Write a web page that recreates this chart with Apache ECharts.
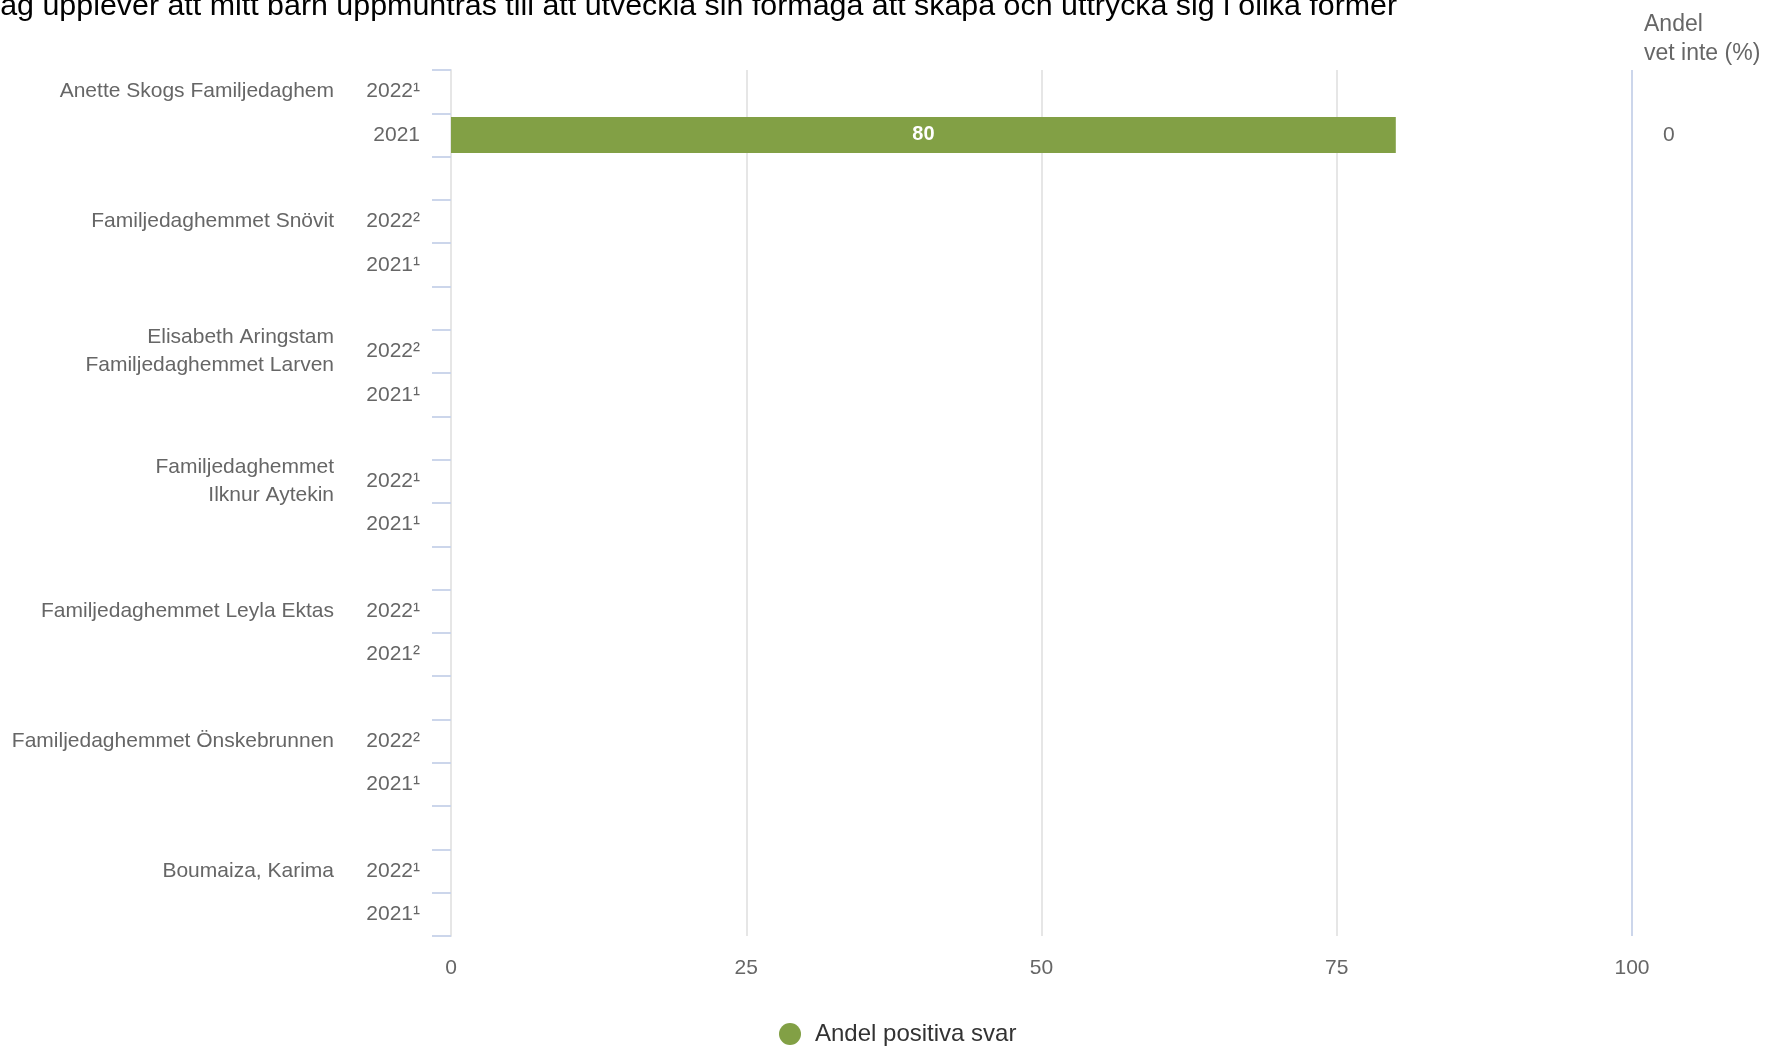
<!DOCTYPE html>
<html>
<head>
<meta charset="utf-8">
<script src="https://cdn.jsdelivr.net/npm/echarts@6/dist/echarts.min.js"></script>
<style>
html,body{margin:0;padding:0;background:#fff;}
#chart{width:1771px;height:1050px;}
</style>
</head>
<body>
<div id="chart"></div>
<script>
// ---- data ----
const titleText = 'Jag upplever att mitt barn uppmuntras till att utveckla sin förmåga att skapa och uttrycka sig i olika former';
const yearLabels = ['2022¹','2021','', '2022²','2021¹','', '2022²','2021¹','', '2022¹','2021¹','', '2022¹','2021²','', '2022²','2021¹','', '2022¹','2021¹'];
const groupNames = ['Anette Skogs Familjedaghem','','', 'Familjedaghemmet Snövit','','', 'Elisabeth Aringstam\nFamiljedaghemmet Larven','','', 'Familjedaghemmet\nIlknur Aytekin','','', 'Familjedaghemmet Leyla Ektas','','', 'Familjedaghemmet Önskebrunnen','','', 'Boumaiza, Karima',''];
const positiveValues = [null,80,null, null,null,null, null,null,null, null,null,null, null,null,null, null,null,null, null,null];
const vetInteValues = ['','0','', '','','', '','','', '','','', '','','', '','','', '',''];
const xTicks = [0,25,50,75,100];
const seriesName = 'Andel positiva svar';
const vetInteHeader = 'Andel\nvet inte (%)';

const FONT = 'Liberation Sans, Arial, sans-serif';
const chart = echarts.init(document.getElementById('chart'));
chart.setOption({
  animation: false,
  textStyle: { fontFamily: FONT },
  title: [
    { text: titleText, left: -20, top: -13,
      textStyle: { fontFamily: FONT, fontSize: 30.4, fontWeight: 'normal', color: '#000' } },
    { text: vetInteHeader, left: 1639, top: 5,
      textStyle: { fontFamily: FONT, fontSize: 23, fontWeight: 'normal', color: '#666', lineHeight: 29 } }
  ],
  legend: {
    left: 774, top: 1017,
    icon: 'circle', itemWidth: 22, itemHeight: 22, itemGap: 10,
    textStyle: { fontFamily: FONT, fontSize: 24, color: '#333', padding: [0, 0, 0, 9] },
    data: [seriesName]
  },
  grid: { left: 451, right: 139, top: 70, bottom: 114, containLabel: false },
  xAxis: {
    type: 'value', min: xTicks[0], max: xTicks[xTicks.length-1], interval: 25,
    axisLine: { show: false }, axisTick: { show: false },
    axisLabel: { color: '#666', fontSize: 21, margin: 22, fontFamily: FONT },
    splitLine: { show: true, lineStyle: { color: '#e6e6e6', width: 2 } }
  },
  yAxis: [
    { type: 'category', inverse: true, data: yearLabels, position: 'left',
      axisLine: { show: true, lineStyle: { color: '#e6e6e6', width: 2 } },
      axisTick: { show: true, length: 19, interval: 0, lineStyle: { color: '#ccd6eb', width: 2 } },
      axisLabel: { color: '#666', fontSize: 21, margin: 31, interval: 0, fontFamily: FONT, align: 'right' }
    },
    { type: 'category', inverse: true, data: groupNames, position: 'left',
      axisLine: { show: false }, axisTick: { show: false },
      axisLabel: { color: '#666', fontSize: 21, margin: 117, interval: 0, lineHeight: 28, fontFamily: FONT, align: 'right' }
    },
    { type: 'category', inverse: true, data: vetInteValues, position: 'right',
      axisLine: { show: false }, axisTick: { show: false },
      axisLabel: { color: '#666', fontSize: 21, margin: 31, interval: 0, fontFamily: FONT, align: 'left' }
    }
  ],
  series: [{
    name: seriesName, type: 'bar', yAxisIndex: 0, data: positiveValues,
    barWidth: 36,
    itemStyle: { color: '#82a045' },
    label: { show: true, position: 'inside', color: '#fff', fontWeight: 'bold', fontSize: 20, fontFamily: FONT },
    markLine: {
      silent: true, symbol: 'none', label: { show: false },
      lineStyle: { color: '#ccd6eb', width: 2, type: 'solid' },
      data: [{ xAxis: xTicks[xTicks.length-1] }]
    }
  }]
});
</script>
</body>
</html>
